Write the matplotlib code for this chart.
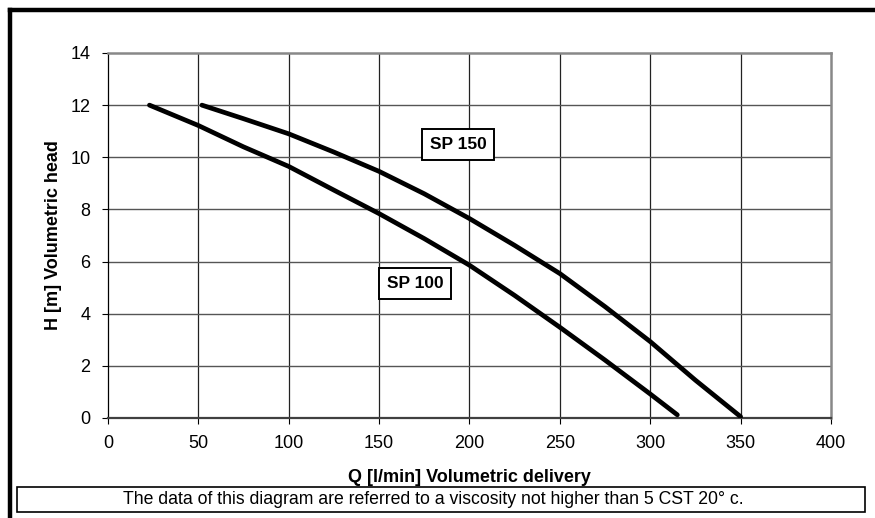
import matplotlib
matplotlib.use("Agg")
from matplotlib import pyplot as plt
from matplotlib.lines import Line2D
from matplotlib.patches import Rectangle

plt.rcParams['font.family'] = ['Liberation Sans', 'DejaVu Sans']

# pump curves
q_sp100 = [23, 50, 75, 100, 125, 150, 175, 200, 225, 250, 275, 300, 315]
h_sp100 = [12.0, 11.22, 10.4, 9.65, 8.74, 7.84, 6.88, 5.86, 4.7, 3.48, 2.22, 0.92, 0.12]

q_sp150 = [52, 75, 100, 125, 150, 175, 200, 225, 250, 275, 300, 325, 350]
h_sp150 = [12.0, 11.48, 10.9, 10.2, 9.46, 8.6, 7.65, 6.62, 5.54, 4.27, 2.93, 1.45, 0.05]

x_ticks = [0, 50, 100, 150, 200, 250, 300, 350, 400]
y_ticks = [0, 2, 4, 6, 8, 10, 12, 14]

fig = plt.figure(figsize=(8.75, 5.18), dpi=100)
ax = fig.add_axes([0.1233, 0.1931, 0.8264, 0.7046])

for q, h in [(q_sp100, h_sp100), (q_sp150, h_sp150)]:
    ax.plot(q, h, color="black", lw=3.4, solid_capstyle="round",
            solid_joinstyle="round", zorder=3)

ax.set_xlim(0, 400)
ax.set_ylim(0, 14)
ax.set_xticks(x_ticks)
ax.set_yticks(y_ticks)
ax.tick_params(direction="out", length=4.5, width=0.8, labelsize=13, pad=8)

# grid: vertical darker than horizontal
for x in x_ticks[1:-1]:
    ax.axvline(x, color="#222222", lw=0.9, zorder=1)
for y in y_ticks[1:-1]:
    ax.axhline(y, color="#555555", lw=1.0, zorder=1)

ax.spines["left"].set_color("black")
ax.spines["left"].set_linewidth(0.9)
ax.spines["bottom"].set_color("#404040")
ax.spines["bottom"].set_linewidth(1.6)
ax.spines["top"].set_color("#888888")
ax.spines["top"].set_linewidth(1.8)
ax.spines["right"].set_color("#888888")
ax.spines["right"].set_linewidth(1.8)

ax.set_xlabel("Q [l/min] Volumetric delivery", fontsize=13, fontweight="bold", labelpad=12)
ax.set_ylabel("H [m] Volumetric head", fontsize=13, fontweight="bold", labelpad=6)

box = dict(boxstyle="square,pad=0.45", fc="white", ec="black", lw=1.4)
ax.text(193.7, 10.5, "SP 150", fontsize=12.5, fontweight="bold", ha="center", va="center", bbox=box, zorder=4)
ax.text(169.9, 5.17, "SP 100", fontsize=12.5, fontweight="bold", ha="center", va="center", bbox=box, zorder=4)

# outer frame (left and top only, as in the scan)
fig.add_artist(Line2D([10 / 875, 10 / 875], [0, 1 - 10 / 518], color="black", lw=3.2))
fig.add_artist(Line2D([10 / 875, 1], [1 - 10 / 518, 1 - 10 / 518], color="black", lw=3.2))

# note box at the bottom
fig.add_artist(Rectangle((17 / 875, 1 - 512 / 518), (865 - 17) / 875, 25 / 518,
                         transform=fig.transFigure, fc="white", ec="black", lw=1.2))
fig.text(433 / 875, 1 - 500 / 518,
         "The data of this diagram are referred to a viscosity not higher than 5 CST 20° c.",
         fontsize=12.7, ha="center", va="center")

fig.savefig("out.png", dpi=100)
